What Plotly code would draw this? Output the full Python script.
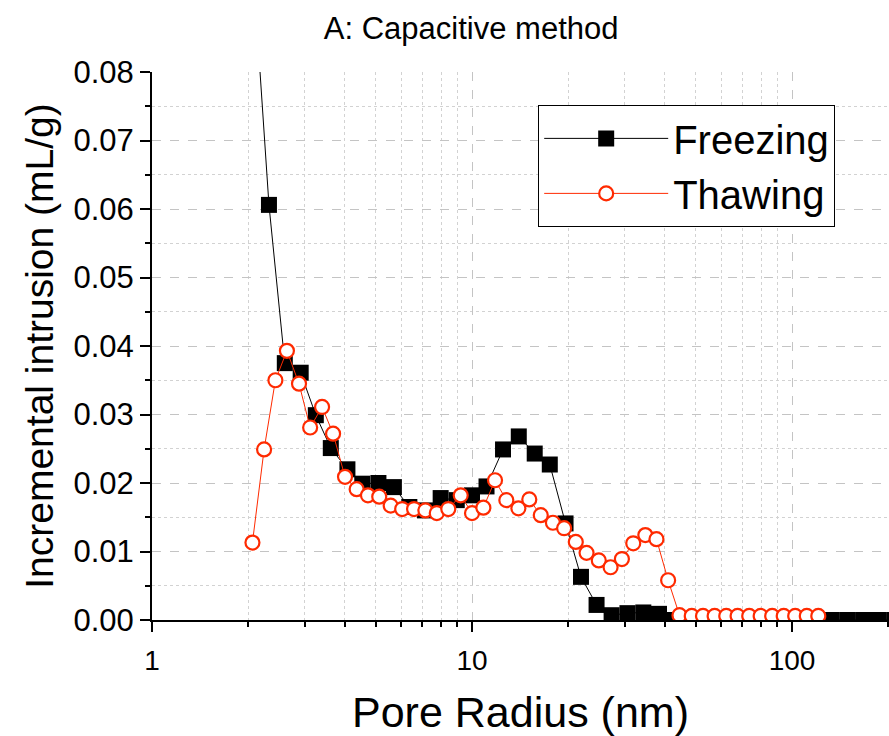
import plotly.graph_objects as go

# Freezing series (pore radius nm, incremental intrusion mL/g)
freeze_x = [2.07, 2.32, 2.60, 2.915, 3.25, 3.62, 4.08, 4.54, 5.10, 5.70, 6.37, 7.13, 7.98, 8.96,
            10.0, 11.1, 12.5, 14.0, 15.7, 17.5, 19.6, 21.9, 24.5, 27.3, 30.6, 34.3, 38.4,
            43.0, 48.1, 53.9, 60.4, 67.6, 75.7, 84.7, 94.8, 106.2, 118.9, 133.1, 149.0, 166.8, 186.7, 209.0]
freeze_y = [0.095, 0.0606, 0.0375, 0.0361, 0.0299, 0.0251, 0.0220, 0.0199, 0.0200, 0.0194, 0.0165, 0.0160, 0.0178, 0.0175,
            0.0182, 0.0195, 0.0249, 0.0268, 0.0243, 0.0227, 0.0141, 0.0063, 0.0022, 0.0007, 0.0010, 0.0011, 0.0009,
            0.0, 0.0, 0.0, 0.0, 0.0, 0.0, 0.0, 0.0, 0.0, 0.0, 0.0, 0.0, 0.0, 0.0, 0.0]

# Thawing series
thaw_x = [2.06, 2.24, 2.43, 2.64, 2.88, 3.12, 3.40, 3.68, 4.01, 4.36, 4.73, 5.13, 5.57, 6.05, 6.59, 7.15, 7.76, 8.43,
          9.22, 10.0, 10.85, 11.8, 12.8, 13.96, 15.1, 16.4, 17.9, 19.4, 21.1, 22.8, 24.9, 27.1, 29.4, 31.9, 34.8, 37.7,
          41.0, 44.5, 48.6, 52.7, 57.3, 62.3, 67.6, 73.5, 79.8, 86.7, 94.2, 102.3, 111.2, 120.8]
thaw_y = [0.0113, 0.0249, 0.0350, 0.0393, 0.0345, 0.0281, 0.0311, 0.0272, 0.0209, 0.0191, 0.0182, 0.0180, 0.0167, 0.0162,
          0.0162, 0.0160, 0.0156, 0.0162, 0.0182, 0.0156, 0.0164, 0.0204, 0.0175, 0.0163, 0.0176, 0.0153, 0.0142, 0.0134,
          0.0114, 0.0098, 0.0087, 0.0077, 0.0089, 0.0112, 0.0124, 0.0118, 0.0058, 0.0007,
          0.0006, 0.0006, 0.0006, 0.0006, 0.0006, 0.0006, 0.0006, 0.0006, 0.0006, 0.0006, 0.0006, 0.0006]

x_major_ticks = [1, 10, 100]
x_major_labels = ["1", "10", "100"]
x_minor_ticks = [2, 3, 4, 5, 6, 7, 8, 9, 20, 30, 40, 50, 60, 70, 80, 90, 200]

FONT = "Liberation Sans, Arial, sans-serif"
RED = "#ff2a00"

fig = go.Figure()
fig.add_trace(go.Scatter(
    x=freeze_x, y=freeze_y, name="Freezing", mode="lines+markers",
    line=dict(color="black", width=1),
    marker=dict(symbol="square", size=16, color="black", line=dict(width=0)),
))
fig.add_trace(go.Scatter(
    x=thaw_x, y=thaw_y, name="Thawing", mode="lines+markers",
    line=dict(color=RED, width=1),
    marker=dict(symbol="circle", size=14, color="white", line=dict(color=RED, width=2.2)),
))

fig.update_layout(
    width=889, height=736,
    margin=dict(l=152, r=0, t=72, b=116, autoexpand=False),
    paper_bgcolor="white", plot_bgcolor="white",
    font=dict(family=FONT, color="black"),
    title=dict(text="A: Capacitive method", x=0.53, xanchor="center", y=0.962, yanchor="middle",
               font=dict(size=31, family=FONT, color="black"), automargin=False),
    legend=dict(x=0.524, y=0.94, xanchor="left", yanchor="top", bgcolor="white",
                bordercolor="black", borderwidth=1, font=dict(size=40, family=FONT),
                itemwidth=124, tracegroupgap=0),
    showlegend=True,
)

fig.update_xaxes(
    type="log", range=[0, 2.303], automargin=False,
    title=dict(text="Pore Radius (nm)", font=dict(size=43, family=FONT), standoff=24),
    tickvals=x_major_ticks, ticktext=x_major_labels, tickfont=dict(size=28, family=FONT),
    ticklabelstandoff=4,
    showline=True, linecolor="black", linewidth=2,
    ticks="outside", ticklen=10, tickwidth=2, tickcolor="black",
    showgrid=True, gridcolor="#c4c4c4", griddash="dash", gridwidth=1,
    zeroline=False,
    minor=dict(tickvals=x_minor_ticks, ticks="outside", ticklen=5, tickwidth=2, tickcolor="black",
               showgrid=True, gridcolor="#d2d2d2", griddash="dot", gridwidth=1),
)
fig.update_yaxes(
    range=[0, 0.08], dtick=0.01, tick0=0, tickformat=".2f", automargin=False,
    title=dict(text="Incremental intrusion (mL/g)", font=dict(size=39, family=FONT), standoff=8),
    tickfont=dict(size=31, family=FONT),
    showline=True, linecolor="black", linewidth=2,
    ticks="outside", ticklen=10, tickwidth=2, tickcolor="black",
    showgrid=True, gridcolor="#c4c4c4", griddash="dash", gridwidth=1,
    zeroline=False,
    minor=dict(dtick=0.005, tick0=0, ticks="outside", ticklen=5, tickwidth=2, tickcolor="black",
               showgrid=True, gridcolor="#d2d2d2", griddash="dot", gridwidth=1),
)

fig.write_html("out.html", config={"displayModeBar": False},
               post_script="document.body.style.margin='0px';")
